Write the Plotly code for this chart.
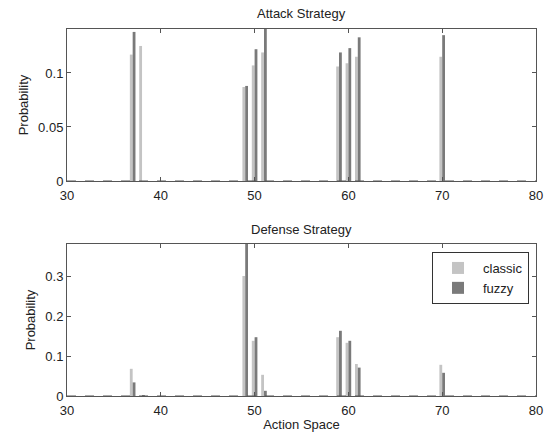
import plotly.graph_objects as go

# Data
actions = [37, 38, 49, 50, 51, 59, 60, 61, 70]
attack_classic = [0.117, 0.125, 0.087, 0.107, 0.119, 0.106, 0.109, 0.115, 0.115]
attack_fuzzy = [0.138, 0.0, 0.088, 0.122, 0.160, 0.119, 0.123, 0.133, 0.135]
defense_classic = [0.068, 0.0, 0.300, 0.138, 0.053, 0.147, 0.133, 0.080, 0.078]
defense_fuzzy = [0.034, 0.002, 0.400, 0.147, 0.013, 0.163, 0.138, 0.071, 0.058]
x_ticks = [30, 40, 50, 60, 70, 80]
attack_yticks = [0, 0.05, 0.1]
attack_yticklabels = ["0", "0.05", "0.1"]
defense_yticks = [0, 0.1, 0.2, 0.3]
defense_yticklabels = ["0", "0.1", "0.2", "0.3"]

C_CLASSIC = "#c4c4c4"
C_FUZZY = "#7a7a7a"
FONT = "Liberation Sans, Arial, sans-serif"

fig = go.Figure()
fig.add_trace(go.Bar(x=actions, y=attack_classic, name="classic", marker=dict(color=C_CLASSIC, line=dict(width=0)),
                     xaxis="x", yaxis="y", showlegend=False, offsetgroup="c"))
fig.add_trace(go.Bar(x=actions, y=attack_fuzzy, name="fuzzy", marker=dict(color=C_FUZZY, line=dict(width=0)),
                     xaxis="x", yaxis="y", showlegend=False, offsetgroup="f"))
fig.add_trace(go.Bar(x=actions, y=defense_classic, name="classic", marker=dict(color=C_CLASSIC, line=dict(width=0)),
                     xaxis="x2", yaxis="y2", offsetgroup="c"))
fig.add_trace(go.Bar(x=actions, y=defense_fuzzy, name="fuzzy", marker=dict(color=C_FUZZY, line=dict(width=0)),
                     xaxis="x2", yaxis="y2", offsetgroup="f"))

axis_common = dict(showline=True, linecolor="#555", linewidth=1, mirror="ticks", ticks="inside",
                   ticklen=4, tickcolor="#555", showgrid=False, zeroline=False, automargin=False,
                   tickfont=dict(size=13, color="#222", family=FONT))

xd = [67 / 559, 536 / 559]
fig.update_layout(
    width=559, height=434,
    margin=dict(l=0, r=0, t=0, b=0),
    paper_bgcolor="white", plot_bgcolor="white",
    barmode="group", bargap=0.4, bargroupgap=0.0,
    font=dict(family=FONT, size=13, color="#222"),
    xaxis=dict(domain=xd, range=[30, 80], tickvals=x_ticks, anchor="y", ticklabelstandoff=2, **axis_common),
    yaxis=dict(domain=[(434 - 181) / 434, (434 - 29) / 434], range=[0, 0.1407], tickvals=attack_yticks,
               ticktext=attack_yticklabels, anchor="x",
               title=dict(text="Probability", font=dict(size=13), standoff=6), **axis_common),
    xaxis2=dict(domain=xd, range=[30, 80], tickvals=x_ticks, anchor="y2", ticklabelstandoff=2,
                title=dict(text="Action Space", font=dict(size=13), standoff=3), **axis_common),
    yaxis2=dict(domain=[(434 - 396) / 434, (434 - 244) / 434], range=[0, 0.38], tickvals=defense_yticks,
                ticktext=defense_yticklabels, anchor="x2",
                title=dict(text="Probability", font=dict(size=13), standoff=6), **axis_common),
    legend=dict(x=529 / 559, xanchor="right", y=(434 - 252) / 434, yanchor="top",
                bordercolor="#333", borderwidth=1, bgcolor="white",
                font=dict(size=13, color="#222"), tracegroupgap=0, itemwidth=40),
    annotations=[
        dict(text="Attack Strategy", x=(xd[0] + xd[1]) / 2, y=(434 - 13) / 434, xref="paper", yref="paper",
             showarrow=False, font=dict(size=13, color="#222"), yanchor="middle"),
        dict(text="Defense Strategy", x=(xd[0] + xd[1]) / 2, y=(434 - 229) / 434, xref="paper", yref="paper",
             showarrow=False, font=dict(size=13, color="#222"), yanchor="middle"),
    ],
    shapes=[
        dict(type="line", xref="x domain", yref="y", x0=0, x1=1, y0=0, y1=0,
             line=dict(color="#555", width=1, dash="dash")),
        dict(type="line", xref="x2 domain", yref="y2", x0=0, x1=1, y0=0, y1=0,
             line=dict(color="#555", width=1, dash="dash")),
    ],
)

fig.write_html("out.html", config={"displayModeBar": False},
               post_script="document.body.style.margin='0';document.body.style.padding='0';")
